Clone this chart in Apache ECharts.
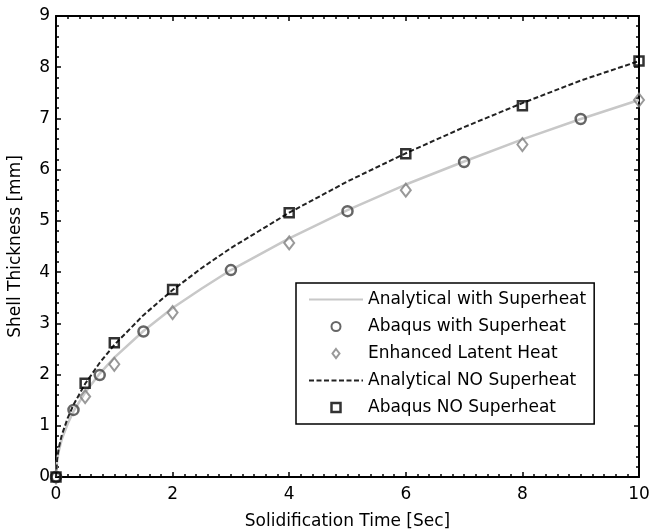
<!DOCTYPE html>
<html>
<head>
<meta charset="utf-8">
<script src="https://cdn.jsdelivr.net/npm/echarts@6/dist/echarts.min.js"></script>
<style>
  html, body { margin: 0; padding: 0; background: #fff; }
  #main { width: 649px; height: 532px; }
</style>
</head>
<body>
<div id="main"></div>
<script>
// analytical curves, values
const curveTime = [0, 0.02, 0.05, 0.1, 0.2, 0.3, 0.5, 0.75, 1, 1.5, 2, 2.5, 3, 4, 5, 6, 7, 8, 9, 10];
const analyticalSuperheat = [0, 0.33, 0.52, 0.74, 1.04, 1.28, 1.65, 2.02, 2.33, 2.85, 3.3, 3.68, 4.04, 4.66, 5.21, 5.71, 6.16, 6.59, 6.99, 7.36];
const analyticalNoSuperheat = [0, 0.36, 0.58, 0.82, 1.15, 1.41, 1.82, 2.23, 2.58, 3.16, 3.65, 4.08, 4.47, 5.16, 5.77, 6.32, 6.83, 7.3, 7.74, 8.12];

// simulation points
const abaqusSuperheatTime = [0, 0.3, 0.75, 1.5, 3, 5, 7, 9];
const abaqusSuperheat = [0, 1.31, 1.99, 2.84, 4.04, 5.19, 6.15, 6.99];
const enhancedTime = [0, 0.5, 1, 2, 4, 6, 8, 10];
const enhancedLatent = [0, 1.57, 2.2, 3.21, 4.57, 5.6, 6.49, 7.36];
const abaqusNoTime = [0, 0.5, 1, 2, 4, 6, 8, 10];
const abaqusNoSuperheat = [0, 1.83, 2.62, 3.66, 5.16, 6.31, 7.25, 8.12];

const xTicks = [0, 2, 4, 6, 8, 10];
const yTicks = [0, 1, 2, 3, 4, 5, 6, 7, 8, 9];

const font = "'DejaVu Sans', sans-serif";
const fontSize = 17;

function pairs(xs, ys) {
  return xs.map((x, i) => [x, ys[i]]);
}

function boxAxis(position, isX, showLabel) {
  const ticks = isX ? xTicks : yTicks;
  return {
    type: "value",
    position: position,
    min: ticks[0],
    max: ticks[ticks.length - 1],
    interval: ticks[1] - ticks[0],
    axisLine: { show: true, onZero: false, lineStyle: { color: "#000", width: 2 } },
    axisTick: { show: true, inside: true, length: 5, lineStyle: { color: "#000", width: 1.5 } },
    minorTick: { show: true, splitNumber: isX ? 10 : 5, length: 3, lineStyle: { color: "#000", width: 1.5 } },
    splitLine: { show: false },
    axisLabel: {
      show: showLabel,
      color: "#000",
      fontSize: fontSize,
      fontFamily: font,
      margin: isX ? 9 : 6,
    },
  };
}

const chart = echarts.init(document.getElementById("main"));

const xBottom = Object.assign(boxAxis("bottom", true, true), {
  name: "Solidification Time [Sec]",
  nameLocation: "middle",
  nameGap: 36,
  nameTextStyle: { color: "#000", fontSize: fontSize, fontFamily: font },
});
const yLeft = Object.assign(boxAxis("left", false, true), {
  name: "Shell Thickness [mm]",
  nameLocation: "middle",
  nameGap: 32,
  nameTextStyle: { color: "#000", fontSize: fontSize, fontFamily: font },
});

// line series get no marker in the legend; path icons keep their aspect
const noMarker = { color: "rgba(0,0,0,0)", borderWidth: 0 };
const diamondIcon = "path://M3.5,0L7,4.5L3.5,9L0,4.5Z";
const squareIcon = "path://M0,0L8,0L8,8L0,8Z";

chart.setOption({
  animation: false,
  backgroundColor: "#fff",
  grid: { left: 56, right: 10, top: 16, bottom: 55, outerBoundsMode: "none" },
  xAxis: [xBottom, boxAxis("top", true, false)],
  yAxis: [yLeft, boxAxis("right", false, false)],
  legend: {
    orient: "vertical",
    left: 296,
    top: 283,
    backgroundColor: "#fff",
    borderColor: "#000",
    borderWidth: 1.5,
    borderRadius: 0,
    padding: [8, 8, 8, 12],
    itemWidth: 54,
    itemHeight: 9,
    itemGap: 10,
    symbolKeepAspect: true,
    textStyle: { color: "#000", fontSize: fontSize, fontFamily: font },
    data: [
      { name: "Analytical with Superheat", itemStyle: noMarker },
      { name: "Abaqus with Superheat", itemStyle: { borderWidth: 2 } },
      { name: "Enhanced Latent Heat", icon: diamondIcon, itemStyle: { borderWidth: 2 } },
      { name: "Analytical NO Superheat", itemStyle: noMarker },
      { name: "Abaqus NO Superheat", icon: squareIcon, itemStyle: { borderWidth: 2.5 } },
    ],
  },
  series: [
    {
      name: "Analytical with Superheat",
      type: "line",
      data: pairs(curveTime, analyticalSuperheat),
      symbol: "none",
      lineStyle: { color: "#c8c8c8", width: 2.5 },
      itemStyle: { color: "#c8c8c8" },
      z: 2,
    },
    {
      name: "Abaqus with Superheat",
      type: "scatter",
      data: pairs(abaqusSuperheatTime, abaqusSuperheat),
      symbol: "circle",
      symbolSize: 10,
      clip: false,
      itemStyle: { color: "rgba(255,255,255,0)", borderColor: "#404040", borderWidth: 2.5 },
      z: 3,
    },
    {
      name: "Enhanced Latent Heat",
      type: "scatter",
      data: pairs(enhancedTime, enhancedLatent),
      symbol: "diamond",
      symbolSize: [10, 13],
      clip: false,
      itemStyle: { color: "rgba(255,255,255,0)", borderColor: "#808080", borderWidth: 2 },
      z: 3,
    },
    {
      name: "Analytical NO Superheat",
      type: "line",
      data: pairs(curveTime, analyticalNoSuperheat),
      symbol: "none",
      lineStyle: { color: "#222", width: 2, type: [5, 2.5] },
      itemStyle: { color: "#222" },
      z: 4,
    },
    {
      name: "Abaqus NO Superheat",
      type: "scatter",
      data: pairs(abaqusNoTime, abaqusNoSuperheat),
      symbol: "rect",
      symbolSize: 9,
      clip: false,
      itemStyle: { color: "rgba(255,255,255,0)", borderColor: "#000", borderWidth: 2.5 },
      z: 5,
    },
  ],
});
</script>
</body>
</html>
